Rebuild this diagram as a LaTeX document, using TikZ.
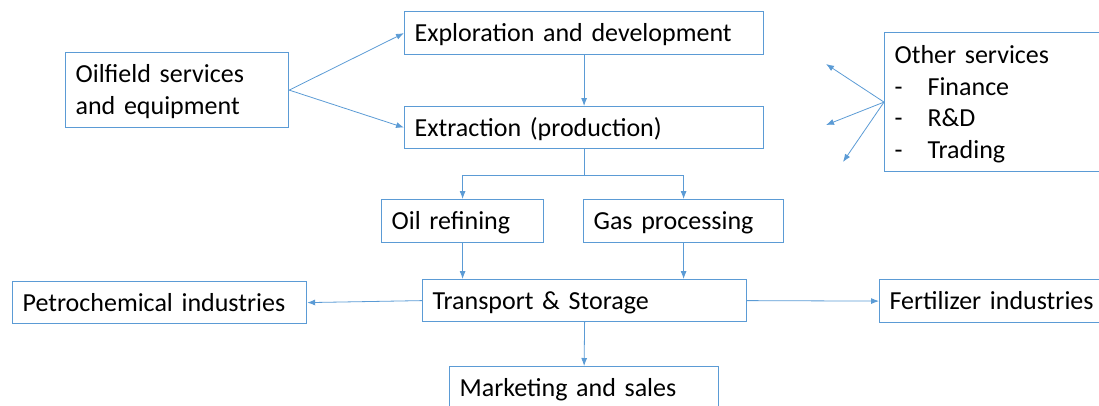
\documentclass[tikz,border=0pt]{standalone}
\usepackage{fontspec}
\setmainfont{Carlito}
\usepackage{xcolor}
\usetikzlibrary{arrows.meta}
\definecolor{boxblue}{HTML}{5B9BD5}

\tikzset{
  stage/.style={draw=boxblue, line width=1.2pt, anchor=north west, align=left,
    inner xsep=10pt, inner ysep=0pt, text height=17pt, text depth=0pt,
    font=\fontsize{26}{31.5}\selectfont},
  link/.style={draw=boxblue, line width=0.8pt, -{Latex[length=8pt,width=6pt]}}
}

\begin{document}
\begin{tikzpicture}[x=1pt,y=-1pt]

      \useasboundingbox (0,0) rectangle (1099,405);

      \node[stage, text width=203pt, minimum height=75pt, text depth=31.5pt] (oilfield) at (65,52) {Oilfield services\\and equipment};
      \node[stage, text width=339pt, minimum height=43pt] (explore) at (404,11) {Exploration and development};
      \node[stage, text width=339pt, minimum height=42pt] (extract) at (404,106) {Extraction (production)};
      \node[stage, text width=142pt, minimum height=43pt] (refine) at (381,199) {Oil refining};
      \node[stage, text width=180pt, minimum height=43pt] (gasproc) at (583,199) {Gas processing};
      \node[stage, text width=304pt, minimum height=42pt] (transport) at (422,279) {Transport \& Storage};
      \node[stage, text width=274pt, minimum height=42pt] (petro) at (12,281) {Petrochemical industries};
      \node[stage, text width=206pt, minimum height=43pt] (fert) at (879,279) {Fertilizer industries};
      \node[stage, text width=249pt, minimum height=43pt] (market) at (449,366) {Marketing and sales};
      \node[stage, text width=206pt, minimum height=139pt, text depth=94pt] (other) at (884,32)
        {Other services\\\makebox[33pt][l]{-}Finance\\\makebox[33pt][l]{-}R\&D\\\makebox[33pt][l]{-}Trading};

      \coordinate (o1) at (826,64);
      \coordinate (o2) at (826,125);
      \coordinate (o3) at (843,162);

      \draw[link] (oilfield.east) -- (explore.west);
      \draw[link] (oilfield.east) -- (extract.west);
      \draw[link] (explore.south) -- (extract.north);
      \draw[link] (extract.south) -- ++(0,26) -| (refine.north);
      \draw[link] (extract.south) -- ++(0,26) -| (gasproc.north);
      \draw[link] (refine.south) -- (refine.south |- transport.north);
      \draw[link] (gasproc.south) -- (gasproc.south |- transport.north);
      \draw[link] (transport.west) -- (petro.east);
      \draw[link] (transport.east) -- (fert.west);
      \draw[link] (transport.south) -- (market.north);
      \draw[link] (other.west) -- (o1);
      \draw[link] (other.west) -- (o2);
      \draw[link] (other.west) -- (o3);
    \end{tikzpicture}
\end{document}
